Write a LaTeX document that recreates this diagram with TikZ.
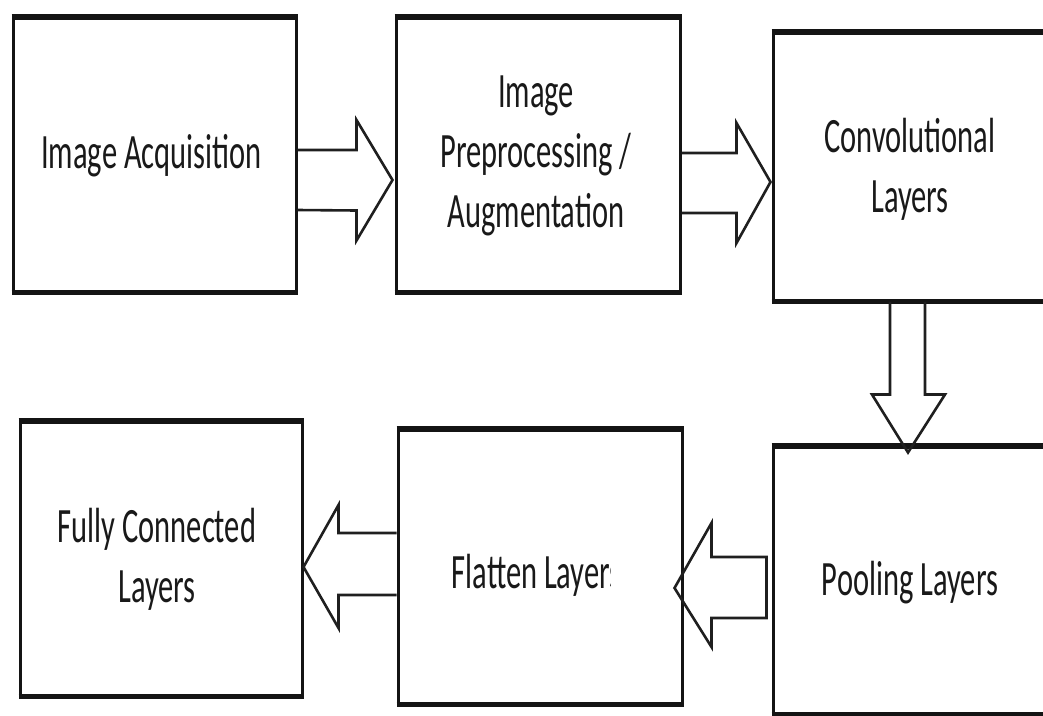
\documentclass[tikz,border=0pt]{standalone}
\usepackage{fontspec}
\setmainfont{Carlito}
\usepackage{graphicx}
\usetikzlibrary{calc}
\newcommand{\lbl}[1]{\scalebox{1}[1.62]{\begin{tabular}{@{}c@{}}#1\end{tabular}}}
\begin{document}
\begin{tikzpicture}[x=1pt,y=-1pt,
  box/.style={draw=black!92,line width=3pt,inner sep=0pt,minimum width=284pt,minimum height=273pt},
  hedge/.style={draw=black!92,line width=5pt},
  blockarrow/.style={draw=black!88,line width=2.6pt,line join=miter},
  txt/.style={inner sep=0pt,text=black!90,font=\fontsize{30.5}{37}\selectfont}]
\useasboundingbox (0,0) rectangle (1043,715);
% boxes
\node[box,minimum width=283pt] (b1) at (154.5,154.5) {};
\node[box] (b2) at (538,154.5) {};
\node[box,minimum height=267pt] (b3) at (915,166.5) {};
\node[box,minimum width=282pt] (b4) at (161,558.5) {};
\node[box] (b5) at (540,566.5) {};
\node[box,minimum height=266pt] (b6) at (915,580) {};
\foreach \b in {b1,b2,b3,b4,b5,b6}{
  \draw[hedge] (\b.north west) -- (\b.north east);
  \draw[hedge] (\b.south west) -- (\b.south east);
}
% texts
\node[txt] (t1) at ($(b1)+(-3,2)$) {\lbl{Image Acquisition}};
\node[txt] (t2) at ($(b2)+(-2,1)$) {\lbl{Image\\Preprocessing /\\Augmentation}};
\node[txt] (t3) at ($(b3)+(-5,4)$) {\lbl{Convolutional\\Layers}};
\node[txt] (t4) at ($(b4)+(-4,2)$) {\lbl{Fully Connected\\Layers}};
\begin{scope}
\clip (b5.north west) rectangle ($(b5.south west)+(214,0)$);
\node[txt,anchor=west] (t5) at ($(b5.west)+(55,10)$) {\lbl{Flatten Layers}};
\end{scope}
\node[txt] (t6) at ($(b6)+(-5,4)$) {\lbl{Pooling Layers}};
% block arrows
\draw[blockarrow] ($(b1.east)+(0,-4.5)$) -- ++(59,0) -- ++(0,-30)
  -- ($(b2.west)+(-2,25.5)$) -- ($(b1.east)+(59,86)$) -- ++(0,-30)
  -- ($(b1.east)+(0,55.5)$);
\draw[blockarrow] ($(b2.east)+(0,-1.5)$) -- ++(55,0) -- ++(0,-30)
  -- ($(b3.west)+(-1,15.5)$) -- ($(b2.east)+(55,88.5)$) -- ++(0,-30)
  -- ($(b2.east)+(0,58.5)$);
\draw[blockarrow] ($(b3.south)+(-25,0)$) -- ++(0,93) -- ++(-18,0)
  -- ($(b6.north)+(-7,7)$) -- ($(b3.south)+(30,93)$) -- ++(-20,0)
  -- ($(b3.south)+(10,0)$);
\draw[blockarrow] ($(b5.west)+(0,-33.5)$) -- ($(b4.east)+(35,-25.5)$) -- ++(0,-28)
  -- ($(b4.east)+(0,8.5)$) -- ($(b4.east)+(35,69.5)$) -- ++(0,-33)
  -- ($(b5.west)+(0,28.5)$);
\draw[blockarrow] ($(b6.west)+(-5,-23)$) -- ($(b5.east)+(28,-9.5)$) -- ++(0,-34)
  -- ($(b5.east)+(-9,21.5)$) -- ($(b5.east)+(28,80.5)$) -- ++(0,-29)
  -- ($(b6.west)+(-5,38)$) -- cycle;
\end{tikzpicture}
\end{document}
